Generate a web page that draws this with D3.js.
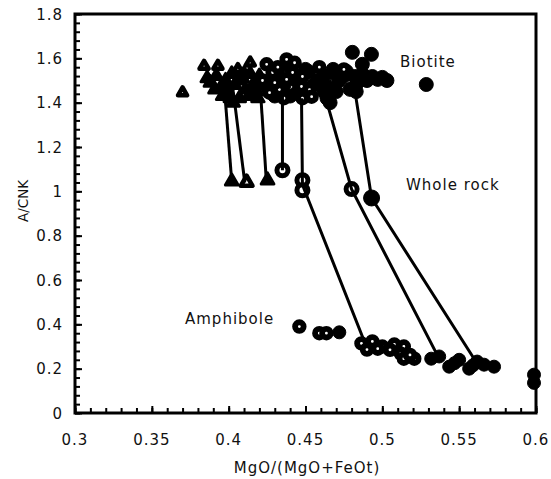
<!DOCTYPE html>
<html><head><meta charset="utf-8">
<script src="https://cdn.jsdelivr.net/npm/d3@7"></script>
<style>body{margin:0;background:#fff}svg{display:block}text{font-family:"DejaVu Sans",sans-serif;fill:#111}</style>
</head><body><svg id="c" width="551" height="479"></svg>
<script>
// ---- data (x = MgO/(MgO+FeOt), y = A/CNK) ----
const xTicks = [0.3,0.35,0.4,0.45,0.5,0.55,0.6];
const xTickLabels = ["0.3","0.35","0.4","0.45","0.5","0.55","0.6"];
const yTicks = [0,0.2,0.4,0.6,0.8,1,1.2,1.4,1.6,1.8];
const yTickLabels = ["0","0.2","0.4","0.6","0.8","1","1.2","1.4","1.6","1.8"];

const biotiteTriOpen = [[0.370,1.445],[0.384,1.565],[0.393,1.565],[0.406,1.55],[0.414,1.58]];
const biotiteTriFilled = [[0.388,1.49],[0.392,1.52],[0.395,1.47],[0.398,1.50],[0.400,1.44],[0.402,1.53],
  [0.404,1.48],[0.407,1.42],[0.409,1.51],[0.411,1.46],[0.414,1.53],[0.417,1.49],[0.420,1.52],
  [0.396,1.43],[0.403,1.40],[0.391,1.46],[0.413,1.43],[0.418,1.45],[0.386,1.51],[0.399,1.47],
  [0.406,1.50],[0.410,1.53],[0.401,1.42],[0.415,1.47],[0.421,1.48],[0.419,1.42]];
const biotiteCircOpen = [[0.4247,1.573],[0.4286,1.536],[0.4377,1.595],[0.4429,1.58],[0.4416,1.536],
  [0.4377,1.505],[0.4266,1.445],[0.448,1.518],[0.4474,1.473],[0.4526,1.459],[0.454,1.427],
  [0.459,1.56],[0.433,1.459],[0.430,1.49],[0.448,1.42],[0.475,1.55],[0.432,1.56],[0.422,1.50],[0.436,1.42]];
const biotiteCircFilled = [[0.428,1.51],[0.436,1.48],[0.444,1.50],[0.440,1.56],[0.450,1.55],[0.432,1.53],
  [0.425,1.47],[0.445,1.45],[0.455,1.48],[0.452,1.54],[0.430,1.43],[0.440,1.43],
  [0.462,1.52],[0.468,1.55],[0.472,1.50],[0.465,1.47],[0.470,1.45],[0.464,1.42],[0.466,1.40],
  [0.458,1.50],[0.462,1.45],[0.475,1.52],[0.469,1.53],[0.4805,1.627],[0.4929,1.618],[0.487,1.573],
  [0.4766,1.541],[0.482,1.518],[0.4935,1.518],[0.500,1.514],[0.4838,1.49],[0.5286,1.482],
  [0.479,1.46],[0.483,1.45],[0.490,1.50],[0.497,1.505],[0.503,1.50],[0.487,1.53]];

const wholeRockTriOpen = [[0.4117,1.04]];
const wholeRockTriFilled = [[0.402,1.045],[0.4253,1.05]];
const wholeRockCircOpen = [[0.435,1.095],[0.448,1.05],[0.448,1.005],[0.480,1.01]];
const wholeRockCircFilled = [[0.493,0.97]];

const amphCircOpen = [[0.446,0.39],[0.459,0.36],[0.4636,0.36],[0.4864,0.314],[0.490,0.286],[0.4935,0.323],
  [0.500,0.30],[0.5078,0.309],[0.514,0.30],[0.512,0.268],[0.514,0.245],[0.5208,0.245],
  [0.497,0.29],[0.505,0.285],[0.518,0.262]];
const amphCircFilled = [[0.472,0.364],[0.5318,0.245],[0.537,0.255],[0.5435,0.209],[0.550,0.24],
  [0.5565,0.20],[0.5617,0.232],[0.5662,0.218],[0.5727,0.209],[0.5987,0.173],[0.5987,0.136],
  [0.547,0.225],[0.559,0.215]];

const tieLines = [
  [[0.3974,1.45],[0.402,1.045]],
  [[0.403,1.45],[0.4105,1.04]],
  [[0.421,1.42],[0.4245,1.05]],
  [[0.435,1.43],[0.435,1.095]],
  [[0.4474,1.42],[0.448,1.03],[0.489,0.31]],
  [[0.4636,1.41],[0.480,1.01],[0.5357,0.262]],
  [[0.482,1.46],[0.493,0.97],[0.5597,0.245]]
];

// ---- chart ----
const svg = d3.select("#c");
const L=75,R=536,T=14,B=413;
const x = d3.scaleLinear().domain([0.3,0.6]).range([L,R]);
const y = d3.scaleLinear().domain([0,1.8]).range([B,T]);

const gx = svg.append("g").attr("transform",`translate(0,${B})`)
  .call(d3.axisBottom(x).tickValues(d3.range(0,31).map(i=>0.3+i*0.01)).tickSize(-5).tickFormat(""));
const gy = svg.append("g").attr("transform",`translate(${L},0)`)
  .call(d3.axisLeft(y).tickValues(d3.range(0,46).map(i=>i*0.04)).tickSize(-5).tickFormat(""));
[gx,gy].forEach(g=>{g.select(".domain").remove();g.selectAll("line").attr("stroke","#000").attr("stroke-width",2);});
const gxM = svg.append("g").attr("transform",`translate(0,${B})`)
  .call(d3.axisBottom(x).tickValues(xTicks).tickSize(-7).tickFormat(""));
const gyM = svg.append("g").attr("transform",`translate(${L},0)`)
  .call(d3.axisLeft(y).tickValues(yTicks).tickSize(-7).tickFormat(""));
[gxM,gyM].forEach(g=>{g.select(".domain").remove();g.selectAll("line").attr("stroke","#000").attr("stroke-width",2);});

svg.append("rect").attr("x",L).attr("y",T).attr("width",R-L).attr("height",B-T)
  .attr("fill","none").attr("stroke","#000").attr("stroke-width",3);

svg.append("g").selectAll("text").data(xTicks).join("text")
  .attr("x",d=>x(d)).attr("y",445).attr("text-anchor","middle")
  .style("font-size","15px").style("letter-spacing","1px")
  .text((d,i)=>xTickLabels[i]);
svg.append("g").selectAll("text").data(yTicks).join("text")
  .attr("x",63).attr("y",d=>y(d)+5.5).attr("text-anchor","end")
  .style("font-size","15px").style("letter-spacing","1px")
  .text((d,i)=>yTickLabels[i]);

svg.append("text").attr("x",307).attr("y",473).attr("text-anchor","middle")
  .style("font-size","15px").style("letter-spacing","1px").text("MgO/(MgO+FeOt)");
svg.append("text").attr("transform","translate(28,201) rotate(-90)").attr("text-anchor","middle")
  .style("font-size","13.5px").text("A/CNK");

svg.append("text").attr("x",400).attr("y",67).style("font-size","15px").style("letter-spacing","1px").text("Biotite");
svg.append("text").attr("x",406).attr("y",190).style("font-size","15px").style("letter-spacing","1px").text("Whole rock");
svg.append("text").attr("x",185).attr("y",324).style("font-size","15px").style("letter-spacing","1px").text("Amphibole");

const g = svg.append("g");
function circles(data, r, filled, sw){
  g.append("g").selectAll("circle").data(data).join("circle")
    .attr("cx",d=>x(d[0])).attr("cy",d=>y(d[1])).attr("r",r)
    .attr("fill",filled?"#000":"#fff").attr("stroke","#000").attr("stroke-width",sw);
}
function tris(data, size, filled, sw){
  const sym = d3.symbol().type(d3.symbolTriangle).size(size);
  g.append("g").selectAll("path").data(data).join("path")
    .attr("transform",d=>`translate(${x(d[0])},${y(d[1])})`).attr("d",sym)
    .attr("fill",filled?"#000":"#fff").attr("stroke","#000").attr("stroke-width",sw).attr("stroke-linejoin","round");
}
tris(biotiteTriFilled,65,true,3);
tris(biotiteTriOpen,36,false,4.5);
circles(biotiteCircFilled,7,true,1);
circles(biotiteCircOpen,4.3,false,5.8);
tris(wholeRockTriFilled,70,true,3);
tris(wholeRockTriOpen,60,false,4.5);
circles(wholeRockCircOpen,5.5,false,5);
circles(wholeRockCircFilled,8,true,1);
circles(amphCircFilled,6.5,true,1);
circles(amphCircOpen,4.3,false,5.8);

const line = d3.line().x(d=>x(d[0])).y(d=>y(d[1]));
svg.append("g").selectAll("path").data(tieLines).join("path")
  .attr("d",line).attr("fill","none").attr("stroke","#000").attr("stroke-width",3);
</script></body></html>
